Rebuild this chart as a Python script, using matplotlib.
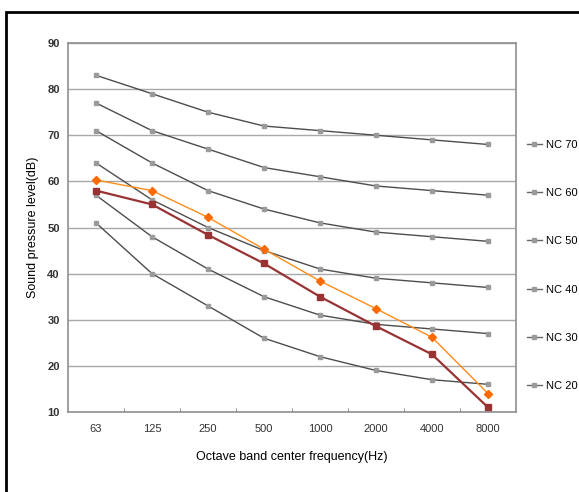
import matplotlib
matplotlib.use("Agg")
import matplotlib.pyplot as plt
from matplotlib.patches import Rectangle

plt.rcParams['font.family'] = ['Liberation Sans', 'DejaVu Sans']

freqs = ["63", "125", "250", "500", "1000", "2000", "4000", "8000"]
nc_labels = ["NC 70", "NC 60", "NC 50", "NC 40", "NC 30", "NC 20"]
nc70 = [83, 79, 75, 72, 71, 70, 69, 68]
nc60 = [77, 71, 67, 63, 61, 59, 58, 57]
nc50 = [71, 64, 58, 54, 51, 49, 48, 47]
nc40 = [64, 56, 50, 45, 41, 39, 38, 37]
nc30 = [57, 48, 41, 35, 31, 29, 28, 27]
nc20 = [51, 40, 33, 26, 22, 19, 17, 16]
orange_series = [60.3, 58.0, 52.2, 45.3, 38.4, 32.4, 26.2, 14.0]
red_series = [58.0, 55.0, 48.4, 42.2, 35.0, 28.6, 22.5, 11.0]
y_ticks = [10, 20, 30, 40, 50, 60, 70, 80, 90]

fig = plt.figure(figsize=(5.79, 4.92), dpi=100)
ax = fig.add_axes([68/579, 80/492, 448/579, 369/492])

x = list(range(len(freqs)))
for lab, vals in zip(nc_labels, [nc70, nc60, nc50, nc40, nc30, nc20]):
    ax.plot(x, vals, color="#4d4d4d", lw=1.0, marker="s", markersize=3.5,
            markerfacecolor="#9a9a9a", markeredgecolor="#9a9a9a", label=lab, zorder=3)

ax.plot(x, orange_series, color="#ff8c1a", lw=1.0, marker="D", markersize=4,
        markerfacecolor="#ff6a00", markeredgecolor="#ff6a00", zorder=4, label="_nolegend_")
ax.plot(x, red_series, color="#993333", lw=1.6, marker="s", markersize=5,
        markerfacecolor="#993333", markeredgecolor="#993333", zorder=5, label="_nolegend_")

ax.set_xlim(-0.5, len(freqs) - 0.5)
ax.set_ylim(10, 90)
ax.set_yticks(y_ticks)
ax.set_yticklabels([str(v) for v in y_ticks], fontsize=8, fontweight="bold", color="#333333")
ax.set_xticks(x)
ax.set_xticklabels(freqs, fontsize=8, color="#333333")
ax.tick_params(axis="x", length=0, pad=9)
ax.tick_params(axis="y", length=0, pad=6)
ax.set_xticks([i + 0.5 for i in range(len(freqs) - 1)], minor=True)
ax.tick_params(axis="x", which="minor", direction="in", length=3, color="#808080")
ax.yaxis.grid(True, color="#a8a8a8", lw=1.0)
ax.set_axisbelow(True)
for s in ax.spines.values():
    s.set_color("#909090")
    s.set_linewidth(1.2)

ax.set_ylabel("Sound pressure level(dB)", fontsize=9, labelpad=6)
ax.set_xlabel("Octave band center frequency(Hz)", fontsize=9, labelpad=12)

leg = ax.legend(loc="upper left", bbox_to_anchor=(1.015, 0.75), frameon=False,
                fontsize=8, labelspacing=3.45, handlelength=1.3, handletextpad=0.4,
                borderaxespad=0)
for h in leg.legend_handles:
    h.set_color("#666666")
    h.set_markerfacecolor("#9a9a9a")
    h.set_markeredgecolor("#9a9a9a")

fig.patches.append(Rectangle((5.5/579, -0.1), 1.2, (492 - 12)/492 + 0.1,
                             transform=fig.transFigure, fill=False,
                             edgecolor="black", lw=2.0))

fig.savefig("out.png", dpi=100)
